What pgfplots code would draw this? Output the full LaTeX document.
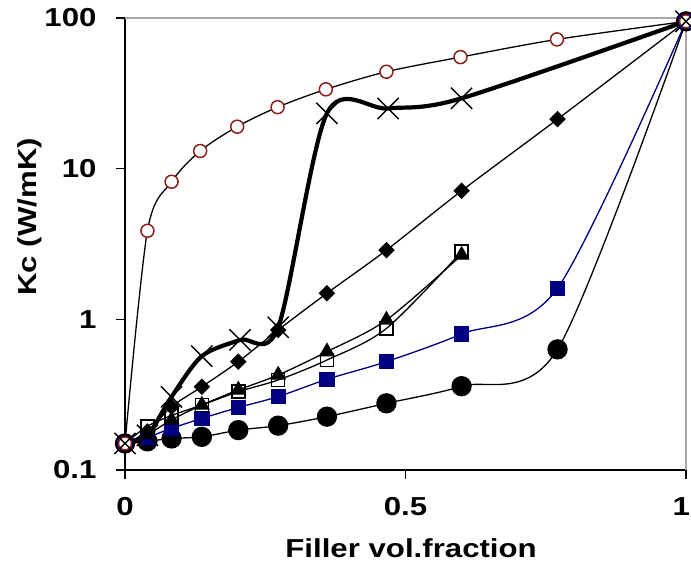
\documentclass[border=0pt]{standalone}
\usepackage{pgfplots}
\pgfplotsset{compat=1.18}
\usepackage{fontspec}
\setmainfont{Liberation Sans}[FakeStretch=1.2]
\definecolor{maroonc}{RGB}{140,30,30}
\definecolor{navyc}{RGB}{0,0,128}

\pgfplotstableread{
x y
0 0.15
0.04 0.155
0.083 0.162
0.137 0.166
0.202 0.184
0.273 0.197
0.36 0.226
0.466 0.277
0.6 0.36
0.771 0.632
1 95
}\circdata
\pgfplotstableread{
x y
0 0.15
0.04 0.165
0.083 0.189
0.137 0.22
0.202 0.26
0.273 0.307
0.36 0.40
0.466 0.524
0.6 0.80
0.771 1.61
1 95
}\bluedata
\pgfplotstableread{
x y
0 0.15
0.04 0.172
0.083 0.215
0.137 0.27
0.202 0.34
0.273 0.427
0.36 0.61
0.466 0.99
0.6 2.67
}\tridata
\pgfplotstableread{
x y
0 0.15
0.04 0.195
0.083 0.23
0.137 0.27
0.202 0.331
0.273 0.396
0.36 0.537
0.466 0.87
0.6 2.81
}\sqdata
\pgfplotstableread{
x y
0 0.15
0.04 0.18
0.083 0.263
0.137 0.357
0.202 0.524
0.273 0.85
0.36 1.49
0.466 2.88
0.6 7.13
0.771 21.3
1 95
}\diadata
\pgfplotstableread{
x y
0 0.15
0.04 3.87
0.083 8.19
0.134 13.1
0.2 19.0
0.272 25.6
0.358 33.6
0.466 44.0
0.598 55
0.77 72.1
1 95
}\reddata
\pgfplotstableread{
x y
0 0.15
0.04 0.17
0.083 0.306
0.137 0.57
0.205 0.73
0.273 0.885
0.36 23.3
0.469 25.1
0.6 29.3
1 95
}\xdata

\begin{document}
\begin{tikzpicture}
\useasboundingbox (-125pt,-97pt) rectangle (566pt,470pt);
\begin{axis}[
  scale only axis, width=561pt, height=452pt,
  xmin=0, xmax=1, ymode=log, ymin=0.1, ymax=100,
  axis lines*=left,
  axis line style={black, line width=1.2pt},
  xtick={0,0.5,1}, xticklabels={0,0.5,{\makebox[8pt][r]{1}}},
  ytick={0.1,1,10,100}, yticklabels={0.1,1,10,100},
  yminorticks=false,
  tick align=outside, major tick length=9pt,
  tick style={black, line width=1.2pt},
  ticklabel style={font=\fontsize{26}{28}\selectfont\bfseries},
  yticklabel style={xshift=-16pt},
  xticklabel style={yshift=-15pt},
  xlabel={Filler vol.fraction},
  ylabel={Kc (W/mK)},
  label style={font=\fontsize{26}{28}\selectfont\bfseries},
  xlabel style={at={(axis description cs:0.51,-0.1726)}, anchor=center},
  ylabel style={at={(axis description cs:-0.169,0.56)}, anchor=center},
  clip=false,
]
\draw[gray!70, line width=1.2pt] (rel axis cs:0,1) -- (rel axis cs:1,1) -- (rel axis cs:1,0);
\addplot[black, line width=1.3pt, smooth, mark=*, mark size=9.5pt, mark options={fill=black}] table {\circdata};
\addplot[navyc, line width=1.3pt, smooth, mark=square*, mark size=7pt, mark options={fill=navyc, draw=navyc}] table {\bluedata};
\addplot[black, line width=1.3pt, smooth, mark=triangle*, mark size=8pt, mark options={fill=black}] table {\tridata};
\addplot[black, line width=1.3pt, smooth, mark=square, mark size=6.5pt, mark options={line width=1.6pt, fill=none}] table {\sqdata};
\addplot[black, line width=1.3pt, smooth, mark=square*, mark size=5.2pt, mark options={rotate=45, fill=black}] table {\diadata};
\addplot[black, line width=1.3pt, smooth, mark=*, mark size=6.5pt, mark options={draw=maroonc, fill=white, line width=1.5pt}] table {\reddata};
\addplot[black, line width=4.2pt, smooth, mark=x, mark size=15pt, mark options={line width=1.4pt}] table {\xdata};
\end{axis}
\end{tikzpicture}
\end{document}
